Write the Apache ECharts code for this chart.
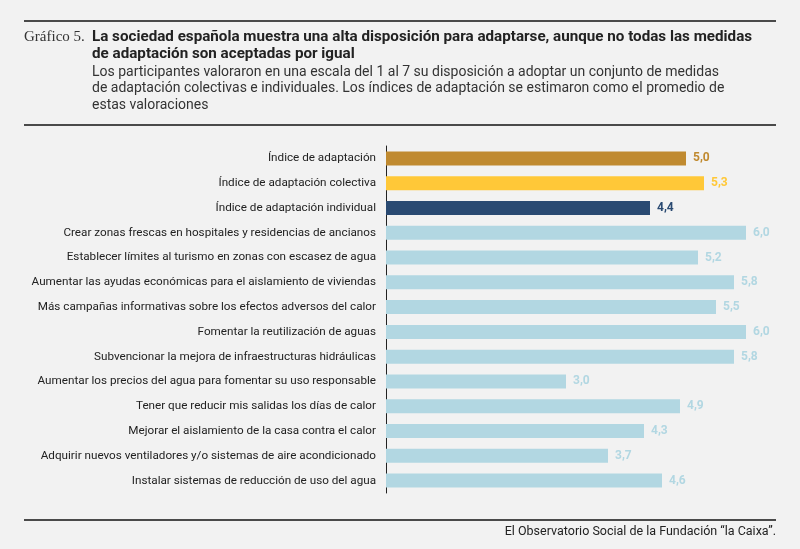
<!DOCTYPE html>
<html>
<head>
<meta charset="utf-8">
<script src="https://cdn.jsdelivr.net/npm/echarts@6/dist/echarts.min.js"></script>
<style>
html,body{margin:0;padding:0;background:#f2f2f2;}
#chart{width:800px;height:549px;}
</style>
</head>
<body>
<div id="chart"></div>
<script>
'use strict';
var categories = [
    'Índice de adaptación',
    'Índice de adaptación colectiva',
    'Índice de adaptación individual',
    'Crear zonas frescas en hospitales y residencias de ancianos',
    'Establecer límites al turismo en zonas con escasez de agua',
    'Aumentar las ayudas económicas para el aislamiento de viviendas',
    'Más campañas informativas sobre los efectos adversos del calor',
    'Fomentar la reutilización de aguas',
    'Subvencionar la mejora de infraestructuras hidráulicas',
    'Aumentar los precios del agua para fomentar su uso responsable',
    'Tener que reducir mis salidas los días de calor',
    'Mejorar el aislamiento de la casa contra el calor',
    'Adquirir nuevos ventiladores y/o sistemas de aire acondicionado',
    'Instalar sistemas de reducción de uso del agua'
];
var values = [5.0, 5.3, 4.4, 6.0, 5.2, 5.8, 5.5, 6.0, 5.8, 3.0, 4.9, 4.3, 3.7, 4.6];
var barColors = ['#c08a30', '#ffc838', '#2a4a72'];
var otherColor = '#b2d7e2';

var titleText = 'La sociedad española muestra una alta disposición para adaptarse, aunque no todas las medidas\nde adaptación son aceptadas por igual';
var subText = 'Los participantes valoraron en una escala del 1 al 7 su disposición a adoptar un conjunto de medidas\nde adaptación colectivas e individuales. Los índices de adaptación se estimaron como el promedio de\nestas valoraciones';
var sourceText = 'El Observatorio Social de la Fundación “la Caixa”.';

function colorOf(i){
    return i < barColors.length ? barColors[i] : otherColor;
}

var seriesData = values.map(function(v, i){
    return {
        value: v,
        itemStyle: { color: colorOf(i) },
        label: { color: colorOf(i) }
    };
});

var myChart = echarts.init(document.getElementById('chart'));
var option = {
    backgroundColor: '#f2f2f2',
    animation: false,
    textStyle: { fontFamily: 'Roboto' },
    graphic: [
        { type: 'rect', shape: { x: 24, y: 20, width: 752, height: 2 }, style: { fill: '#4a4a4a' } },
        { type: 'rect', shape: { x: 24, y: 124, width: 752, height: 2 }, style: { fill: '#4a4a4a' } },
        { type: 'rect', shape: { x: 24, y: 519, width: 752, height: 2 }, style: { fill: '#4a4a4a' } },
        { type: 'text', left: 24, top: 30, style: { text: 'Gráfico 5.', font: '15px "Liberation Serif", serif', fill: '#333' } },
        { type: 'text', left: 92, top: 29, style: { text: titleText, font: 'bold 15.2px Roboto', fill: '#222', lineHeight: 17 } },
        { type: 'text', left: 92, top: 64, style: { text: subText, font: '14px Roboto', fill: '#333', lineHeight: 16.5 } },
        { type: 'text', right: 24, top: 525, style: { text: sourceText, font: '12.5px Roboto', fill: '#222', align: 'right' } }
    ],
    grid: { left: 386, top: 146, width: 390, height: 347, containLabel: false },
    xAxis: {
        type: 'value',
        min: 0,
        max: 6.5,
        show: false
    },
    yAxis: {
        type: 'category',
        data: categories,
        inverse: true,
        axisLine: { show: true, lineStyle: { color: '#222', width: 1 } },
        axisTick: { show: false },
        axisLabel: { color: '#222', fontSize: 11.7, fontFamily: 'Roboto', margin: 10 }
    },
    series: [{
        type: 'bar',
        data: seriesData,
        barWidth: 14,
        label: {
            show: true,
            position: 'right',
            distance: 7,
            fontSize: 12,
            fontWeight: 'bold',
            fontFamily: 'Roboto',
            formatter: function(p){ return p.value.toFixed(1).replace('.', ','); }
        }
    }]
};
myChart.setOption(option);
</script>
</body>
</html>
